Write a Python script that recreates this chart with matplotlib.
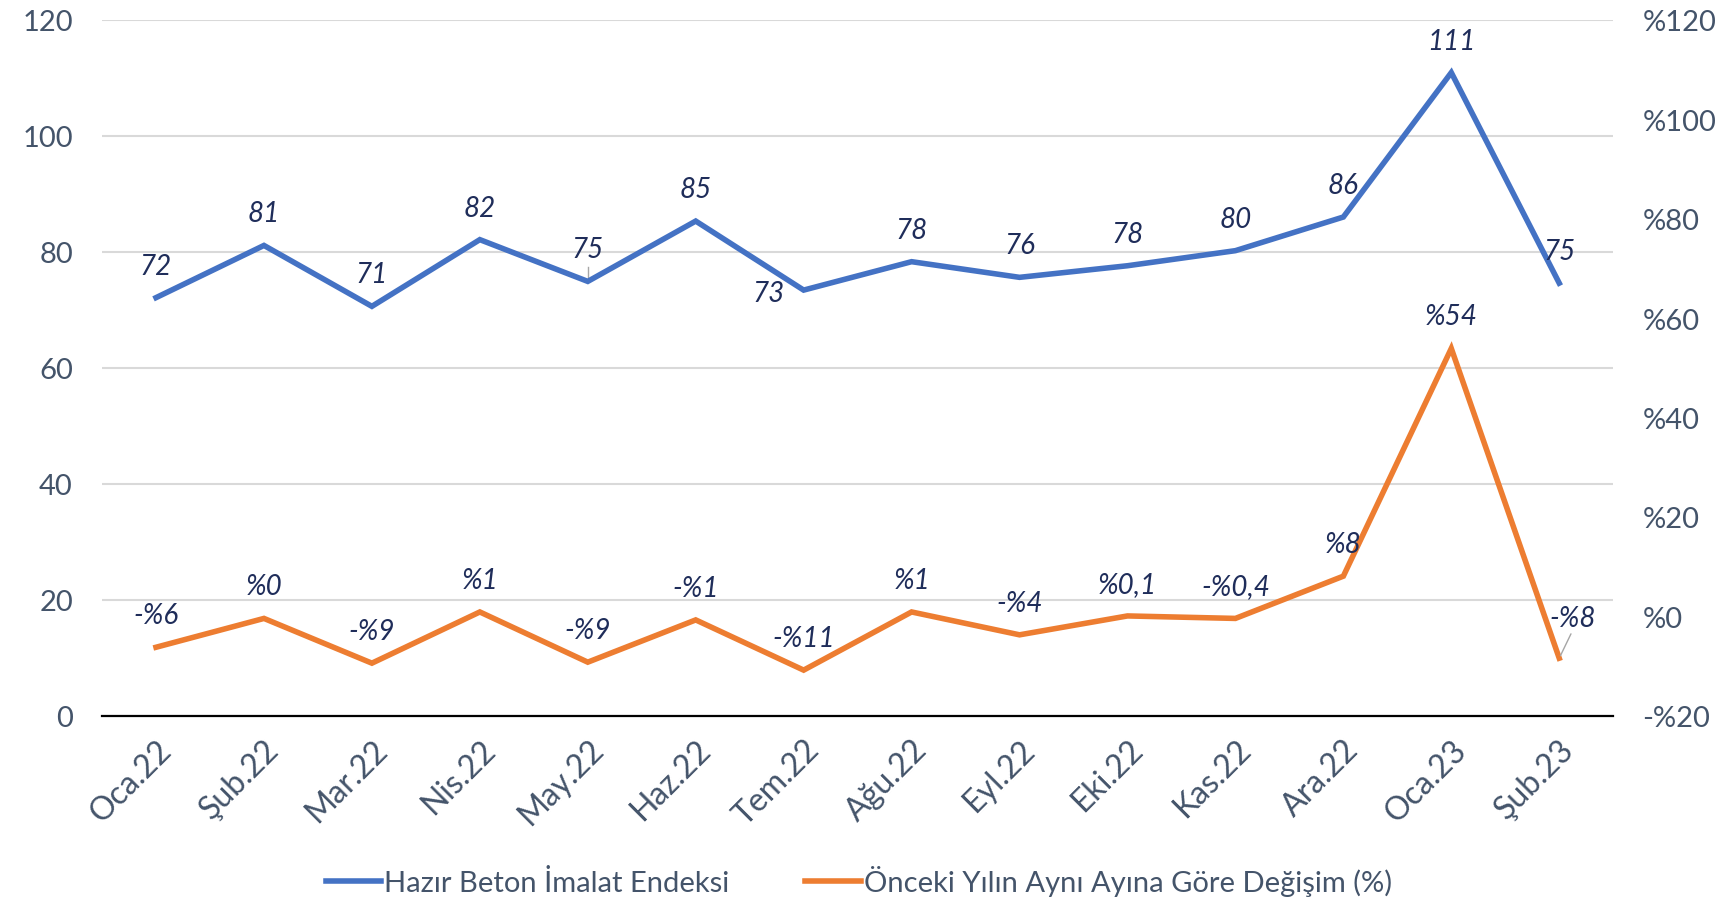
import numpy as np
import matplotlib.pyplot as plt

# data
months = ['Oca.22', 'Şub.22', 'Mar.22', 'Nis.22', 'May.22', 'Haz.22', 'Tem.22',
          'Ağu.22', 'Eyl.22', 'Eki.22', 'Kas.22', 'Ara.22', 'Oca.23', 'Şub.23']
endeks = [72.1, 81.1, 70.6, 82.1, 74.9, 85.3, 73.4, 78.3, 75.6, 77.6, 80.2, 86.0, 110.9, 74.6]
endeks_labels = ['72', '81', '71', '82', '75', '85', '73', '78', '76', '78', '80', '86', '111', '75']
degisim = [-6.2, -0.4, -9.4, 0.9, -9.2, -0.7, -10.8, 0.9, -3.7, 0.1, -0.4, 8.1, 53.9, -8.4]
degisim_labels = ['-%6', '%0', '-%9', '%1', '-%9', '-%1', '-%11', '%1', '-%4', '%0,1',
                  '-%0,4', '%8', '%54', '-%8']
left_ticks = [0, 20, 40, 60, 80, 100, 120]
right_ticks = [-20, 0, 20, 40, 60, 80, 100, 120]

blue = '#4472C4'
orange = '#ED7D31'
tick_col = '#44546A'
lab_col = '#1F2D5A'

plt.rcParams['font.family'] = ['Lato', 'DejaVu Sans']

fig = plt.figure(figsize=(17.18, 9.04), dpi=100)
ax = fig.add_axes([0.0594, 0.207, 0.8796, 0.770])
ax2 = ax.twinx()

x = np.arange(len(months))
ax.plot(x, endeks, color=blue, lw=4, solid_joinstyle='miter', zorder=3)
ax2.plot(x, degisim, color=orange, lw=4, solid_joinstyle='miter', zorder=3)

ax.set_xlim(-0.5, len(months) - 0.5)
ax.set_ylim(0, 120)
ax2.set_ylim(-20, 120)
ax.set_yticks(left_ticks)
ax2.set_yticks(right_ticks)
ax2.set_yticklabels([('-%' + str(-t)) if t < 0 else ('%' + str(t)) for t in right_ticks])
ax.set_xticks(x)
ax.set_xticklabels(months, rotation=45, ha='right', va='top', rotation_mode='anchor')

for a in (ax, ax2):
    for s in a.spines.values():
        s.set_visible(False)
    a.tick_params(length=0, labelsize=21, labelcolor=tick_col)
ax.tick_params(axis='y', pad=21)
ax2.tick_params(axis='y', pad=21)
ax.tick_params(axis='x', pad=13, labelsize=23)
ax.spines['bottom'].set_visible(True)
ax.spines['bottom'].set_linewidth(1.6)
ax.spines['bottom'].set_color('black')
ax.spines['bottom'].set_zorder(4)
ax.yaxis.grid(True, color='#D9D9D9', lw=1.5)
ax.set_axisbelow(True)

# data labels
for i, (v, t) in enumerate(zip(endeks, endeks_labels)):
    off = (0, 23)
    if i == 6:
        off = (-25, -2)
    ax.annotate(t, (i, v), xytext=off, textcoords='offset points', ha='center', va='center',
                fontsize=20, style='italic', color=lab_col, zorder=5)
ax.plot([4, 4], [75.4, 77.3], color='#A6A6A6', lw=1)

for i, (v, t) in enumerate(zip(degisim, degisim_labels)):
    off = (0, 23)
    if i == 13:
        off = (10, 29)
    ax2.annotate(t, (i, v), xytext=off, textcoords='offset points', ha='center', va='center',
                 fontsize=20, style='italic', color=lab_col, zorder=5)
ax2.annotate('', (13, degisim[13]), xytext=(13.12, -3.0),
             arrowprops=dict(arrowstyle='-', color='#A6A6A6', lw=1))

h1, = ax.plot([], [], color=blue, lw=4)
h2, = ax.plot([], [], color=orange, lw=4)
fig.legend([h1, h2], ['Hazır Beton İmalat Endeksi', 'Önceki Yılın Aynı Ayına Göre Değişim (%)'],
           loc='center', bbox_to_anchor=(0.5, 0.025), ncol=2, frameon=False,
           fontsize=21, labelcolor=tick_col, handlelength=1.9, handletextpad=0.1,
           columnspacing=2.6)

fig.savefig('out.png', dpi=100)
